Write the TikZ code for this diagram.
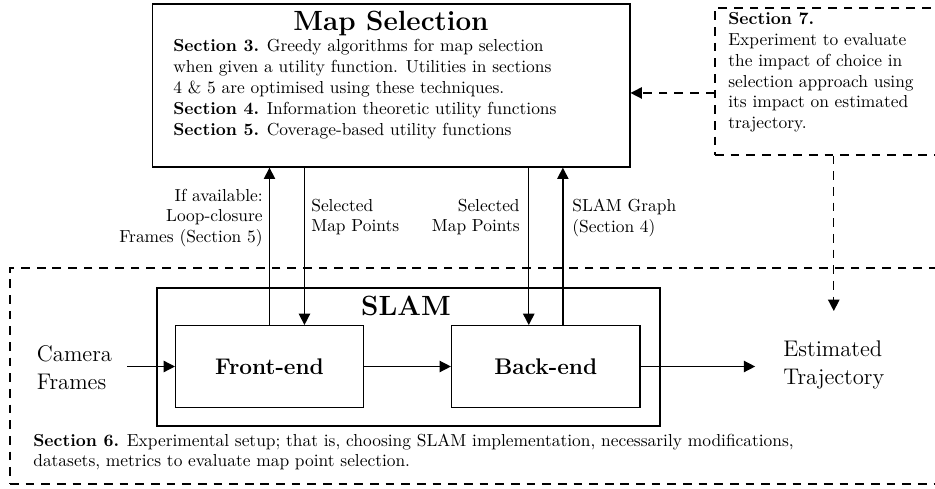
\documentclass[tikz,border=0pt]{standalone}
\usetikzlibrary{arrows.meta}
\begin{document}
\begin{tikzpicture}[x=0.575pt,y=-0.575pt,
  box/.style={draw, line width=0.8pt, inner sep=0pt},
  dbox/.style={draw, line width=0.8pt, inner sep=0pt, dash pattern=on 5pt off 4pt},
  arr/.style={line width=0.8pt, -{Triangle[length=6.5pt,width=6.5pt]}},
  darr/.style={arr, dash pattern=on 5pt off 4pt},
  txt/.style={inner sep=0pt, font=\normalsize},
  big/.style={inner sep=0pt, font=\fontsize{13}{16}\selectfont},
  ttl/.style={inner sep=0pt, font=\fontsize{16}{19}\selectfont\bfseries}
]
\useasboundingbox (0,0) rectangle (935,489);

% dashed regions
\node[dbox, minimum width=537.6pt, minimum height=124.2pt] (sec6box) at (477.5,376) {};
\node[dbox, minimum width=132.25pt, minimum height=84.5pt] (sec7) at (830,81.5) {};
\node[txt, anchor=north west, align=left] (sec7t) at (728,12)
  {\textbf{Section 7.}\\Experiment to evaluate\\the impact of choice in\\selection approach using\\its impact on estimated\\trajectory.};
\node[txt, anchor=west, align=left] (sec6t) at (33,452)
  {\textbf{Section 6.} Experimental setup; that is, choosing SLAM implementation, necessarily modifications,\\datasets, metrics to evaluate map point selection.};

% map selection
\node[box, fill=white, minimum width=274.3pt, minimum height=93.7pt] (mapsel) at (391.3,85.5) {};
\node[ttl] (mapselt) at (391,23) {Map Selection};
\node[txt, anchor=north west, align=left] (mapselx) at (173,39)
  {\textbf{Section 3.} Greedy algorithms for map selection\\
   when given a utility function. Utilities in sections\\
   4 \& 5 are optimised using these techniques.\\
   \textbf{Section 4.} Information theoretic utility functions\\
   \textbf{Section 5.} Coverage-based utility functions};

% SLAM
\node[box, minimum width=289.2pt, minimum height=79.35pt] (slam) at (408.5,357) {};
\node[ttl] (slamt) at (406,306) {SLAM};
\node[box, minimum width=107.9pt, minimum height=46.9pt, font=\fontsize{13}{16}\selectfont\bfseries] (fe) at (269.5,366.5) {Front-end};
\node[box, minimum width=108.3pt, minimum height=46.9pt, font=\fontsize{13}{16}\selectfont\bfseries] (be) at (545.8,366.5) {Back-end};

\node[big, align=left, inner xsep=8.6pt] (cam) at (74.5,368) {Camera\\Frames};
\node[big, align=left, anchor=west] (est) at (783,365) {Estimated\\Trajectory};

% labels
\node[txt, align=right, anchor=east] (l1) at (263,218) {If available:\\Loop-closure\\Frames (Section 5)};
\node[txt, align=left, anchor=west] (l2) at (311,217) {Selected\\Map Points};
\node[txt, align=right, anchor=east] (l3) at (520,217) {Selected\\Map Points};
\node[txt, align=left, anchor=west] (l4) at (572,218) {SLAM Graph\\(Section 4)};

% connectors
\coordinate (fe2) at ([xshift=20.1pt]fe.north);
\coordinate (be1) at ([xshift=-9.8pt]be.north);
\coordinate (be2) at ([xshift=9.8pt]be.north);
\draw[arr] (fe.north) -- (fe.north |- mapsel.south);
\draw[arr] (fe2 |- mapsel.south) -- (fe2);
\draw[arr] (be1 |- mapsel.south) -- (be1);
\draw[arr] (be2) -- (be2 |- mapsel.south);
\draw[arr] (fe.west -| cam.east) -- (fe.west);
\draw[arr] (fe.east) -- (be.west);
\draw[arr, shorten >=16pt] (be.east) -- (be.east -| est.west);
\coordinate (s7a) at ([yshift=-6.6pt]sec7.west);
\draw[darr] (s7a) -- (s7a -| mapsel.east);
\coordinate (s7b) at (sec7.south -| est.center);
\draw[darr] (s7b) -- ([yshift=17pt]est.north);
\end{tikzpicture}
\end{document}
